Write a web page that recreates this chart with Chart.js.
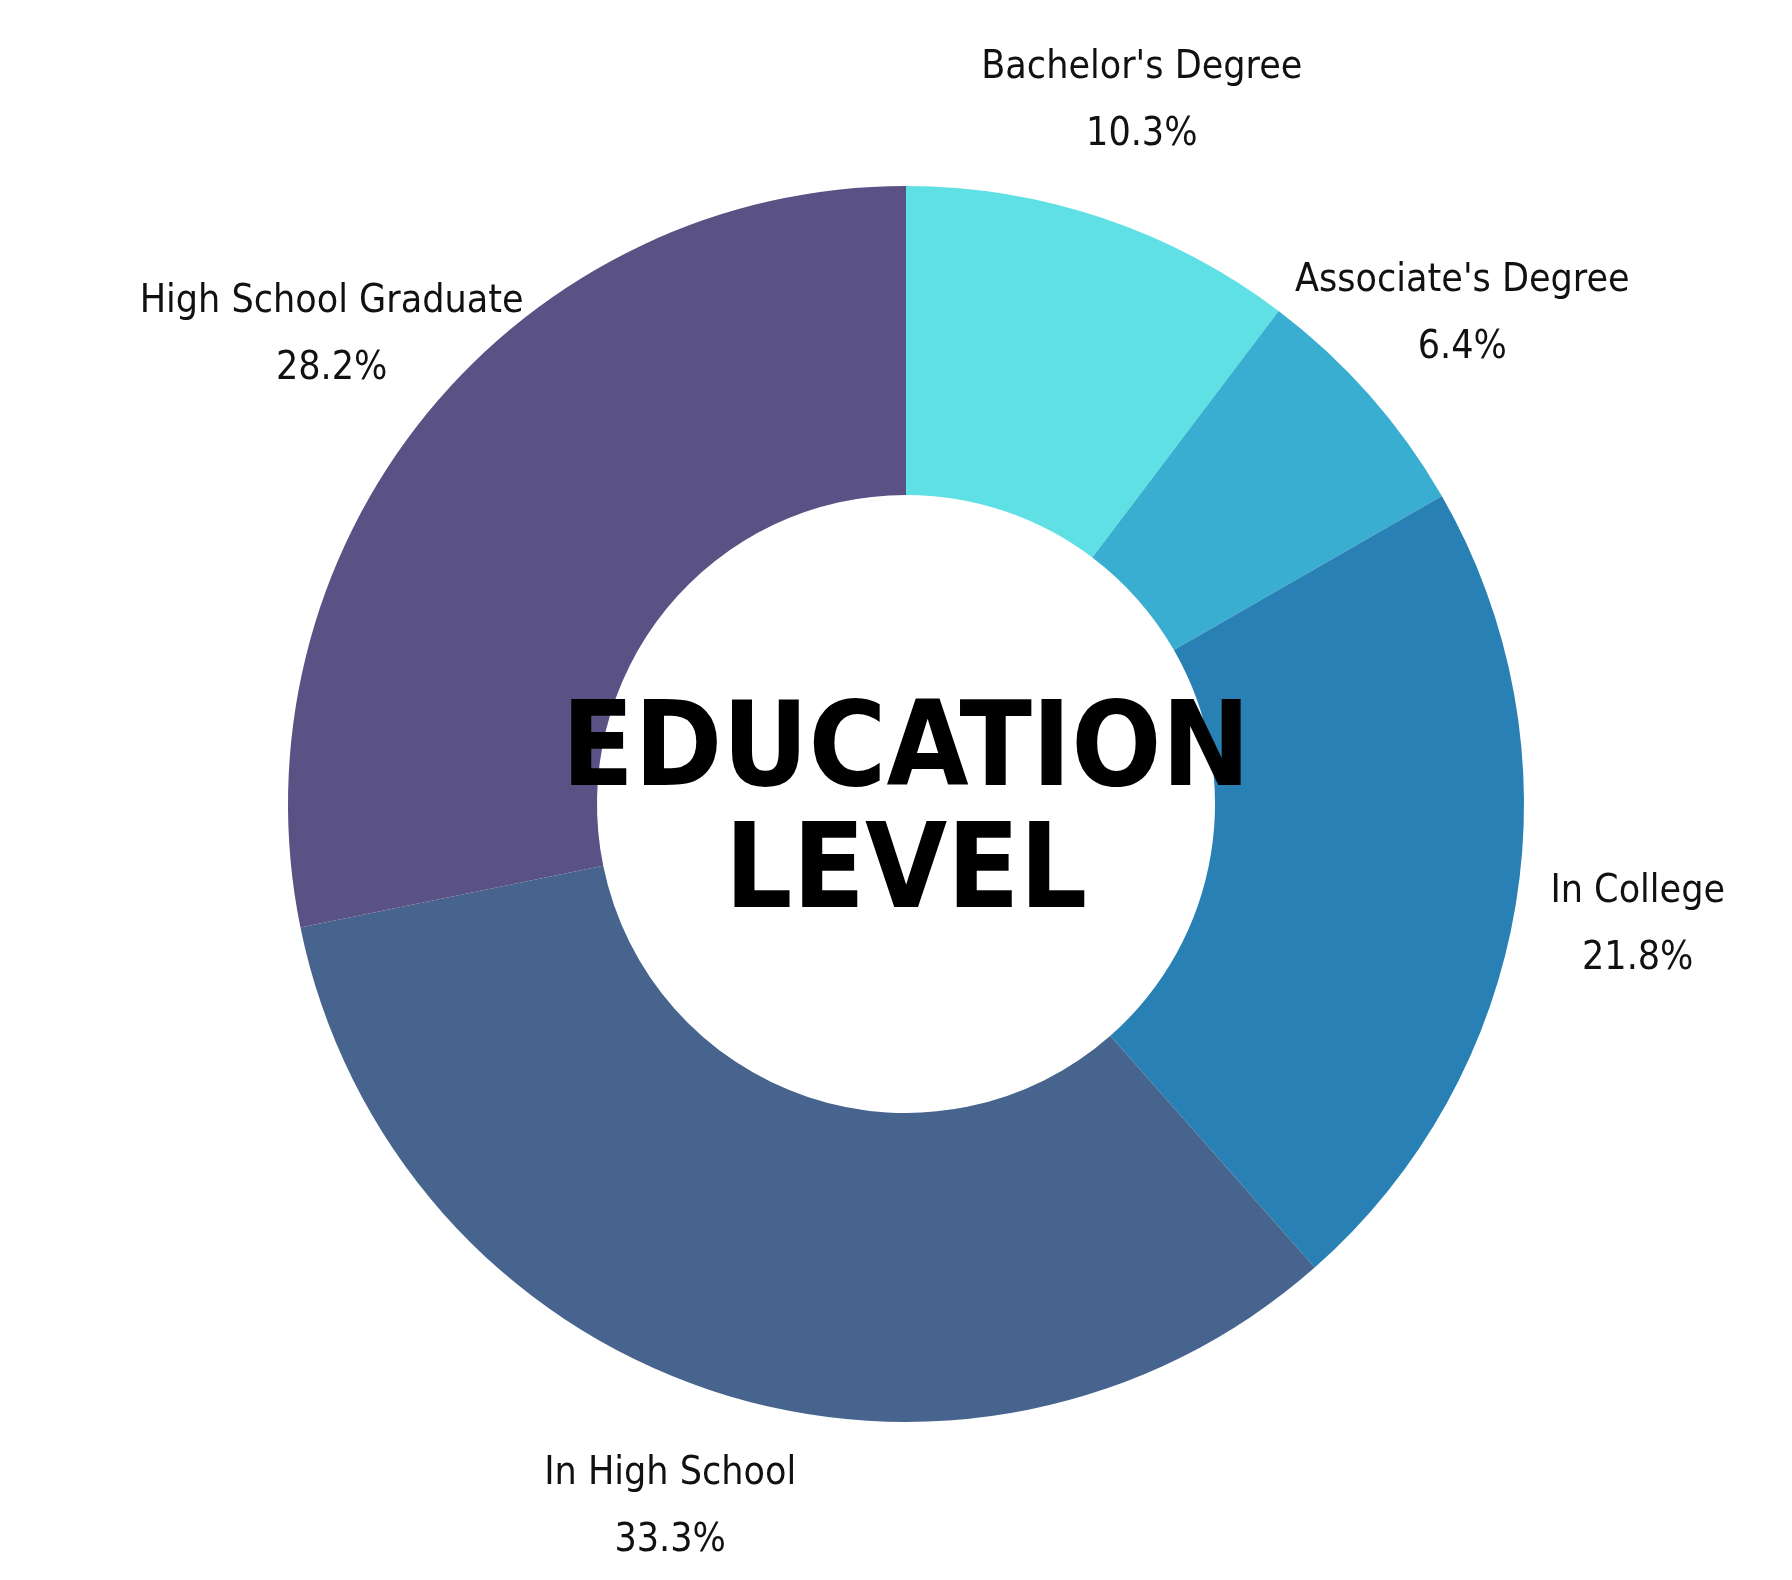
<!DOCTYPE html>
<html><head><meta charset="utf-8">
<script src="https://cdn.jsdelivr.net/npm/chart.js@4"></script>
<style>html,body{margin:0;padding:0;background:#fff}#w{width:1792px;height:1580px}</style>
</head><body><div id="w"><canvas id="c"></canvas></div>
<script>
const categories = ["Bachelor's Degree","Associate's Degree","In College","In High School","High School Graduate"];
const values = [10.3, 6.4, 21.8, 33.3, 28.2];
const colors = ["#5fe0e5","#3aaed0","#2980b4","#46648e","#5a5185"];
const centerLines = ["EDUCATION","LEVEL"];
const FONT = "'Liberation Sans Narrow','DejaVu Sans Condensed','Roboto',sans-serif";
const labelPlugin = {
  id:'lbl',
  afterDraw(chart){
    const ctx=chart.ctx, meta=chart.getDatasetMeta(0);
    ctx.save();
    meta.data.forEach((arc,i)=>{
      const a=(arc.startAngle+arc.endAngle)/2, r=arc.outerRadius*1.2;
      const x=arc.x+Math.cos(a)*r, y=arc.y+Math.sin(a)*r;
      ctx.fillStyle='#111'; ctx.font="39px "+FONT; ctx.textAlign='center'; ctx.textBaseline='middle';
      ctx.fillText(categories[i],x,y-33);
      ctx.fillText(values[i].toFixed(1)+'%',x,y+34);
    });
    const a0=meta.data[0];
    ctx.font="bold 118px 'DejaVu Sans Condensed','DejaVu Sans',sans-serif";
    ctx.fillStyle='#000';
    ctx.fillText(centerLines[0],a0.x,a0.y-50);
    ctx.fillText(centerLines[1],a0.x,a0.y+72);
    ctx.restore();
  }
};
new Chart(document.getElementById('c'),{
  type:'doughnut',
  data:{labels:categories,datasets:[{data:values,backgroundColor:colors,borderWidth:0}]},
  options:{responsive:true,maintainAspectRatio:false,animation:false,cutout:'50%',
    layout:{padding:{left:288,right:268,top:186,bottom:158}},
    plugins:{legend:{display:false},tooltip:{enabled:false}}},
  plugins:[labelPlugin]
});
</script></body></html>
